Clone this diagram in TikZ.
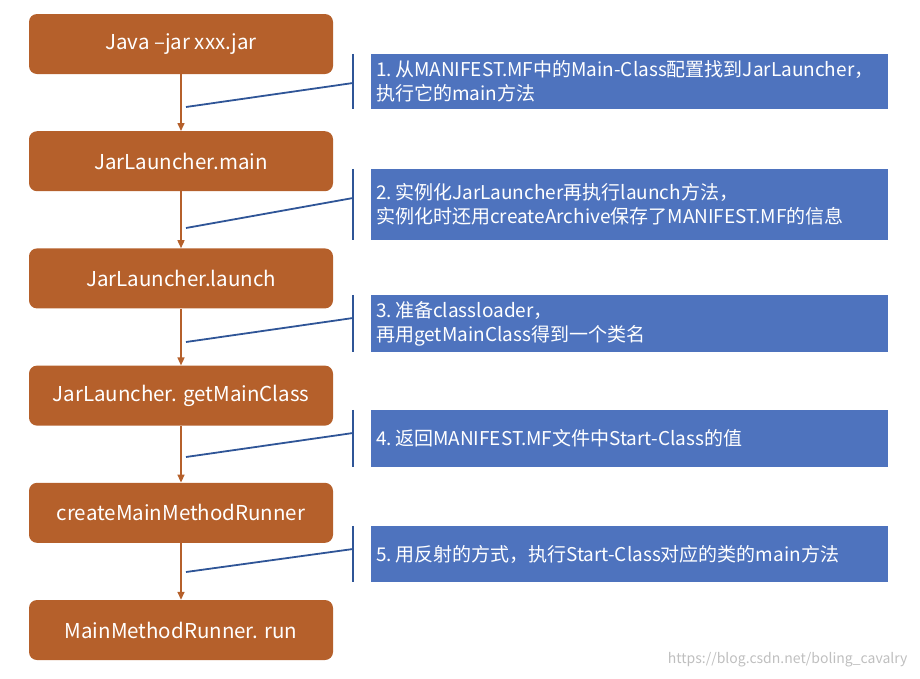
\documentclass[tikz,border=0pt]{standalone}
\usepackage{fontspec}
\setmainfont{Noto Sans CJK SC}
\usetikzlibrary{positioning,arrows.meta}
\definecolor{steporange}{HTML}{B5602B}
\definecolor{noteblue}{HTML}{4E73BE}
\definecolor{notedark}{HTML}{2F5597}

\begin{document}
\begin{tikzpicture}[x=1pt,y=-1pt,
  jbox/.style={rectangle,rounded corners=8pt,fill=steporange,text=white,
    minimum width=304pt,minimum height=60pt,inner sep=0pt,
    font=\fontsize{20.5}{24}\selectfont},
  nbox/.style={rectangle,fill=noteblue,text=white,anchor=west,
    text width=507pt,inner xsep=5pt,inner ysep=0pt,align=left,
    font=\fontsize{19}{24}\selectfont},
  jarrow/.style={draw=steporange,line width=1.5pt,-{Triangle[length=8pt,width=7pt]}},
  nline/.style={draw=notedark,line width=1.8pt}]

\useasboundingbox (0,0) rectangle (920,678);

% left column
\def\steps{1/{Java –jar xxx.jar},2/{JarLauncher.main},3/{JarLauncher.launch},4/{JarLauncher. getMainClass},5/{createMainMethodRunner},6/{MainMethodRunner. run}}
\foreach \i / \element in \steps
  \node [jbox] (j\i) at (181,{44+117.2*(\i-1)}) {\element};

\foreach \i [evaluate=\i as \j using int(\i+1)] in {1,...,5}
  \draw [jarrow] (j\i) -- (j\j);

% notes
\def\notes{1/81.5/55/83/107/{1.\,从MANIFEST.MF中的Main-Class配置找到JarLauncher，\\执行它的main方法},
  2/204.5/71/198/228/{2.\,实例化JarLauncher再执行launch方法，\\实例化时还用createArchive保存了MANIFEST.MF的信息},
  3/323.5/57/318/342/{3.\,准备classloader，\\再用getMainClass得到一个类名},
  4/438.5/57/433/457/{4.\,返回MANIFEST.MF文件中Start-Class的值},
  5/554/56/549/572/{5.\,用反射的方式，执行Start-Class对应的类的main方法}}
\foreach \i / \yc / \h / \yd / \ya / \element in \notes {
  \node [nbox,minimum height=\h pt] (n\i) at (371,\yc) {\element};
  \coordinate (b\i) at (353,\yd);
  \coordinate (a\i) at (186,\ya);
  \draw [nline] ([xshift=-18pt]n\i.north west) -- ([xshift=-18pt]n\i.south west);
  \draw [nline] (b\i) -- (a\i);
}

\node [text=black!25,anchor=east,font=\fontsize{14}{16}\selectfont] (mark) at (911,660) {https://blog.csdn.net/boling\_cavalry};

\end{tikzpicture}
\end{document}
